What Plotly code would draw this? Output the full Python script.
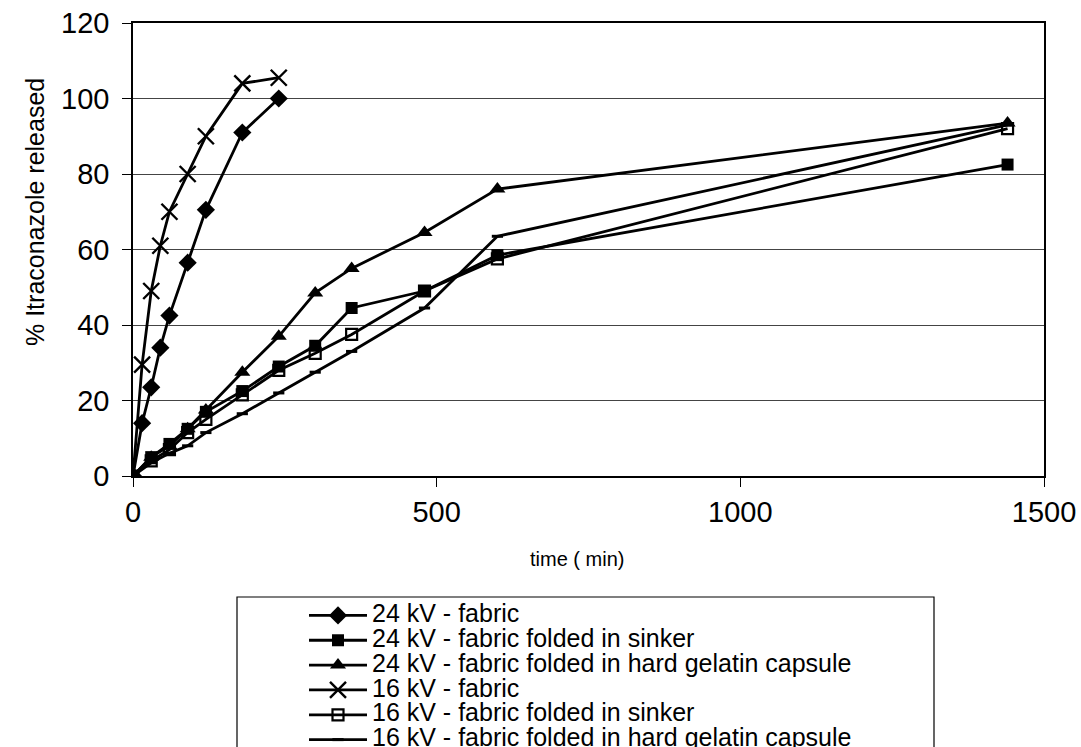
import plotly.graph_objects as go

# ---- data ----
t_fabric = [0, 15, 30, 45, 60, 90, 120, 180, 240]
kv24_fabric = [0, 14, 23.5, 34, 42.5, 56.5, 70.5, 91, 100]
kv16_fabric = [0, 29.5, 49, 61, 70, 80, 90, 104, 105.5]

t_folded = [0, 30, 60, 90, 120, 180, 240, 300, 360, 480, 600, 1440]
kv24_sinker = [0, 5, 8.5, 12.5, 17, 22.5, 29, 34.5, 44.5, 49, 58.5, 82.5]
kv24_capsule = [0, 5, 8, 12.5, 17.5, 27.5, 37, 48.5, 55, 64.5, 76, 93.5]
kv16_sinker = [0, 4, 7, 11.5, 15, 21.5, 28, 32.5, 37.5, 49, 57.5, 92]
kv16_capsule = [0, 3.5, 6, 8, 11.5, 16.5, 22, 27.5, 33, 44.5, 63.5, 93]

names = [
    "24 kV - fabric",
    "24 kV - fabric folded in sinker",
    "24 kV - fabric folded in hard gelatin capsule",
    "16 kV - fabric",
    "16 kV - fabric folded in sinker",
    "16 kV - fabric folded in hard gelatin capsule",
]
x_ticks = [0, 500, 1000, 1500]
y_ticks = [0, 20, 40, 60, 80, 100, 120]

FONT = "Liberation Sans, Arial, sans-serif"
LEG_TXT = 25

series = [
    (t_fabric, kv24_fabric, dict(symbol="diamond", size=14, color="black")),
    (t_folded, kv24_sinker, dict(symbol="square", size=12, color="black")),
    (t_folded, kv24_capsule, dict(symbol="triangle-up", size=14, color="black")),
    (t_fabric, kv16_fabric, dict(symbol="x-thin-open", size=16, color="black",
                                 line=dict(width=2.4, color="black"))),
    (t_folded, kv16_sinker, dict(symbol="square-open", size=11, color="black",
                                 line=dict(width=2.2, color="black"))),
    (t_folded, kv16_capsule, dict(symbol="line-ew-open", size=8, color="black",
                                  line=dict(width=3, color="black"))),
]

fig = go.Figure()
for (xs, ys, mk), nm in zip(series, names):
    fig.add_trace(go.Scatter(
        x=xs, y=ys, mode="lines+markers",
        name=f'<span style="font-size:{LEG_TXT}px">{nm}</span>',
        line=dict(color="black", width=2.8),
        marker=mk,
    ))

W, H = 1081, 747
ml, mr, mt, mb = 133, 37, 23, 271
pw, ph = W - ml - mr, H - mt - mb


def px2paper(px, py):
    return (px - ml) / pw, (H - mb - py) / ph


# legend frame
lx0, ly0 = px2paper(237, 597)
lx1, ly1 = px2paper(934, 770)
fig.add_shape(type="rect", xref="paper", yref="paper",
              x0=lx0, x1=lx1, y0=ly1, y1=ly0,
              line=dict(color="black", width=1.2), fillcolor="rgba(0,0,0,0)")

legx, legy = px2paper(304, 598)

ytx, yty = px2paper(35, 212)
xtx, xty = px2paper(577, 559)
fig.add_annotation(text="% Itraconazole released", xref="paper", yref="paper",
                   x=ytx, y=yty, textangle=-90, showarrow=False,
                   font=dict(family=FONT, size=25, color="black"),
                   xanchor="center", yanchor="middle")
fig.add_annotation(text="time ( min)", xref="paper", yref="paper",
                   x=xtx, y=xty, showarrow=False,
                   font=dict(family=FONT, size=20, color="black"),
                   xanchor="center", yanchor="middle")

fig.update_layout(
    width=W, height=H,
    margin=dict(l=ml, r=mr, t=mt, b=mb, pad=0, autoexpand=False),
    paper_bgcolor="white", plot_bgcolor="white",
    font=dict(family=FONT, color="black"),
    showlegend=True,
    legend=dict(x=legx, y=legy, xanchor="left", yanchor="top",
                bgcolor="rgba(0,0,0,0)", borderwidth=0,
                font=dict(family=FONT, size=16.8, color="black"),
                itemwidth=58, tracegroupgap=0),
    xaxis=dict(range=[0, 1500], tickvals=x_ticks, ticktext=[str(v) for v in x_ticks],
               showgrid=False, zeroline=False,
               showline=True, linecolor="black", linewidth=1.5, mirror=True,
               ticks="outside", ticklen=9, tickcolor="black", tickwidth=1,
               tickfont=dict(family=FONT, size=29, color="black")),
    yaxis=dict(range=[0, 120], tickvals=y_ticks, ticktext=[str(v) for v in y_ticks],
               showgrid=True, gridcolor="#444444", gridwidth=1, zeroline=False,
               showline=True, linecolor="black", linewidth=1.5, mirror=True,
               ticks="outside", ticklen=9, tickcolor="black", tickwidth=1,
               ticklabelstandoff=7,
               tickfont=dict(family=FONT, size=29, color="black")),
)

fig.write_html("out.html")
